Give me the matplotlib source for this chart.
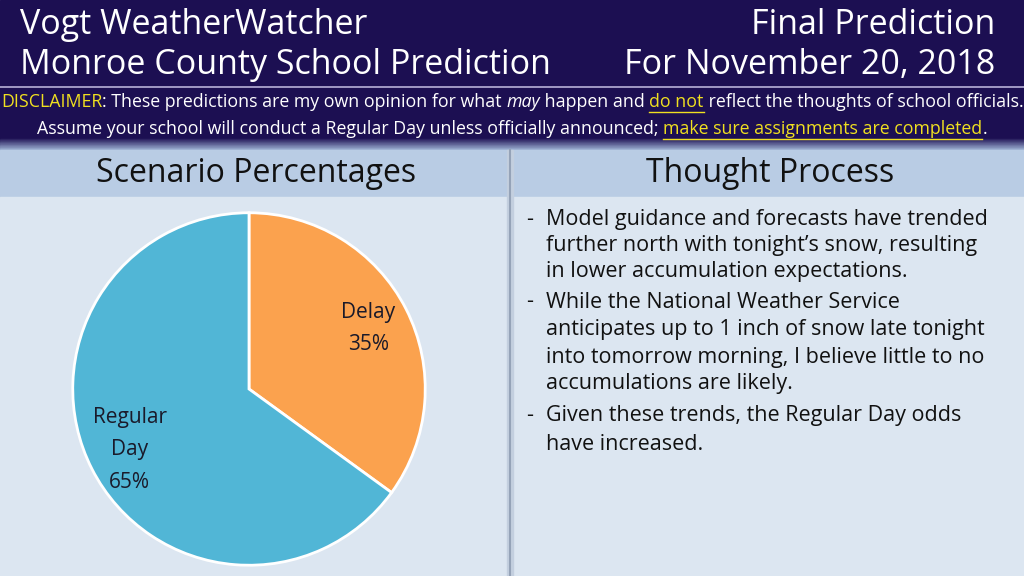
import matplotlib.pyplot as plt
from matplotlib.patches import Rectangle
import numpy as np

# chart data
scenarios = ['Delay', 'Regular Day']
percents = [35, 65]
slice_labels = ['Delay\n35%', 'Regular\nDay\n65%']
slice_colors = ['#fba24e', '#51b6d6']

title_left = ['Vogt WeatherWatcher', 'Monroe County School Prediction']
title_right = ['Final Prediction', 'For November 20, 2018']
panel_titles = ['Scenario Percentages', 'Thought Process']

bullet_lines = [
    ('-', 'Model guidance and forecasts have trended'),
    ('', 'further north with tonight\u2019s snow, resulting'),
    ('', 'in lower accumulation expectations.'),
    ('-', 'While the National Weather Service'),
    ('', 'anticipates up to 1 inch of snow late tonight'),
    ('', 'into tomorrow morning, I believe little to no'),
    ('', 'accumulations are likely.'),
    ('-', 'Given these trends, the Regular Day odds'),
    ('', 'have increased.'),
]
bullet_y = [219, 246, 272, 302, 330, 357, 384, 416, 444]

# disclaimer runs: (text, color, italic, underline)
disc1 = [('DISCLAIMER', '#f0e020', False, False),
         (': These predictions are my own opinion for what ', 'white', False, False),
         ('may', 'white', True, False),
         (' happen and ', 'white', False, False),
         ('do not', '#f0e020', False, True),
         (' reflect the thoughts of school officials.', 'white', False, False)]
disc2 = [('Assume your school will conduct a Regular Day unless officially announced; ', 'white', False, False),
         ('make sure assignments are completed', '#f0e020', False, True),
         ('.', 'white', False, False)]

FONT = ['Open Sans', 'DejaVu Sans']
W, H = 1024, 576

fig = plt.figure(figsize=(10.24, 5.76), dpi=100)
bg = fig.add_axes([0, 0, 1, 1])
bg.set_xlim(0, W)
bg.set_ylim(H, 0)
bg.axis('off')

# backgrounds
navy = '#1c0f52'
bg.add_patch(Rectangle((0, 0), W, 150, color=navy, zorder=0))
grad = np.linspace(0, 1, 20)
for i, g in enumerate(grad):
    c = np.array([0x1c, 0x0f, 0x52]) / 255 * (1 - g) + np.array([0x9a, 0xae, 0xd0]) / 255 * g
    bg.add_patch(Rectangle((0, 138 + i * 0.6), W, 0.7, color=c, zorder=1))
bg.add_patch(Rectangle((0, 150), W, 47, color='#b9cce4', zorder=1))
bg.add_patch(Rectangle((0, 197), W, H - 197, color='#dce6f1', zorder=1))
bg.plot([0, W], [87, 87], color='#b8b0d8', lw=1.2, zorder=2)
bg.add_patch(Rectangle((507, 150), 6, H - 150, color='#c3cfdf', zorder=2))
bg.plot([510, 510], [150, H], color='#95a3b8', lw=1.5, zorder=3)

# header titles
for i, t in enumerate(title_left):
    bg.text(20, 25 + i * 40, t, color='white', fontsize=24.5, family=FONT,
            ha='left', va='center', zorder=5)
for i, t in enumerate(title_right):
    bg.text(995, 25 + i * 40, t, color='white', fontsize=24.5, family=FONT,
            ha='right', va='center', zorder=5)

# disclaimer lines
fig.canvas.draw()
renderer = fig.canvas.get_renderer()


def draw_runs(runs, yc, xc):
    texts = []
    for txt, col, ital, und in runs:
        t = bg.text(0, yc, txt, color=col, fontsize=12.8, family=FONT,
                    style='italic' if ital else 'normal', ha='left', va='center', zorder=5)
        texts.append((t, und, col))
    widths = []
    for t, _, _ in texts:
        bb = t.get_window_extent(renderer)
        widths.append(bb.width)
    x = xc - sum(widths) / 2
    for (t, und, col), w in zip(texts, widths):
        t.set_x(x)
        if und:
            bg.plot([x, x + w], [yc + 10, yc + 10], color=col, lw=1, zorder=5)
        x += w


draw_runs(disc1, 102, 512)
draw_runs(disc2, 129, 512)

# panel titles
bg.text(256, 174, panel_titles[0], color='#111111', fontsize=23, family=FONT,
        ha='center', va='center', zorder=5)
bg.text(770, 174, panel_titles[1], color='#111111', fontsize=23, family=FONT,
        ha='center', va='center', zorder=5)

# bullets
for (b, line), y in zip(bullet_lines, bullet_y):
    if b:
        bg.text(526, y, b, color='#111111', fontsize=15.5, family=FONT, ha='left', va='center', zorder=5)
    bg.text(546, y, line, color='#111111', fontsize=15.5, family=FONT, ha='left', va='center', zorder=5)

# pie
cx, cy, r = 249, 389, 178
ax = fig.add_axes([(cx - r) / W, (H - cy - r) / H, 2 * r / W, 2 * r / H])
wedges, texts = ax.pie(percents, labels=slice_labels, colors=slice_colors, startangle=90,
                       counterclock=False, labeldistance=0.76,
                       wedgeprops=dict(edgecolor='white', linewidth=2),
                       textprops=dict(fontsize=15, color='#1a1a2a', family=FONT))
for t in texts:
    t.set_ha('center')
    t.set_va('center')
    t.set_linespacing(1.7)
ax.set_xlim(-1.01, 1.01)
ax.set_ylim(-1.01, 1.01)
ax.set_aspect('equal')

fig.savefig('out.png', dpi=100)
